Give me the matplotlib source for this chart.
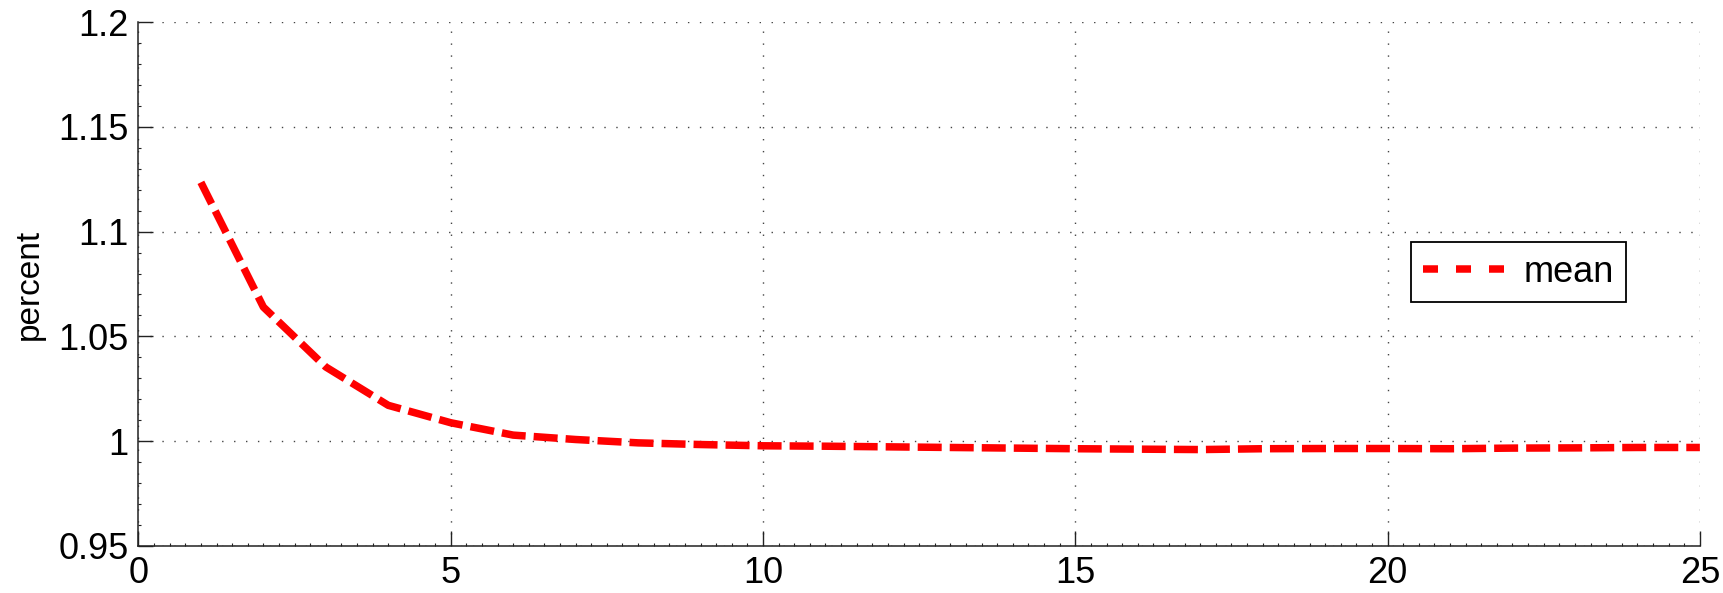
"""Mean percent curve, MATLAB-style line chart. Headless (Agg)."""

import matplotlib

matplotlib.use("Agg")
import matplotlib.pyplot as plt  # noqa: E402
from matplotlib.lines import Line2D  # noqa: E402
from matplotlib.ticker import MultipleLocator  # noqa: E402

plt.rcParams["font.family"] = ["Liberation Sans", "DejaVu Sans"]

# values
steps = list(range(1, 26))
mean_pct = [1.1235, 1.064, 1.0354, 1.0171, 1.0088, 1.0029, 1.0008, 0.9992,
            0.9984, 0.9978, 0.9976, 0.9973, 0.9970, 0.9967, 0.9964, 0.9962,
            0.9960, 0.9964, 0.9965, 0.9965, 0.9964, 0.9967, 0.9968, 0.9970,
            0.9970]
x_ticks = [0, 5, 10, 15, 20, 25]
y_ticks = [0.95, 1.0, 1.05, 1.1, 1.15, 1.2]
y_tick_labels = ["0.95", "1", "1.05", "1.1", "1.15", "1.2"]

LW = 5.4

fig = plt.figure(figsize=(17.24, 5.93), dpi=100)
ax = fig.add_axes([0.0803, 0.0793, 0.9057, 0.8836])

ax.plot(steps, mean_pct, color="red", linewidth=LW, dashes=(3.2, 1.07))

ax.set_xlim(0, 25)
ax.set_ylim(0.95, 1.2)
ax.set_xticks(x_ticks)
ax.set_yticks(y_ticks)
ax.set_yticklabels(y_tick_labels)
ax.xaxis.set_minor_locator(MultipleLocator(0.25))
ax.yaxis.set_minor_locator(MultipleLocator(0.01))
ax.tick_params(which="both", direction="in", labelsize=26, color="#222222")
ax.tick_params(which="major", length=11, width=1)
ax.tick_params(which="minor", length=2.5, width=0.8)
ax.tick_params(axis="both", pad=7)

for side in ("top", "right"):
    ax.spines[side].set_visible(False)
for side in ("left", "bottom"):
    ax.spines[side].set_linewidth(1.1)
    ax.spines[side].set_color("#222222")

ax.grid(True, which="major", linestyle=(0, (1, 7.6)), color="#444444",
        linewidth=1.0)
ax.set_ylabel("percent", fontsize=24, labelpad=10)

# MATLAB draws the legend sample with a looser dash than the curve
proxy = Line2D([], [], color="red", linewidth=LW, dashes=(2.0, 2.4))
leg = ax.legend([proxy], ["mean"], loc="upper right",
                bbox_to_anchor=(0.953, 0.58), borderaxespad=0, fontsize=26,
                handlelength=2.22, handletextpad=0.55, borderpad=0.35,
                fancybox=False, framealpha=1, edgecolor="black")
leg.get_frame().set_linewidth(1.3)

fig.savefig("out.png", dpi=100)
plt.close(fig)
